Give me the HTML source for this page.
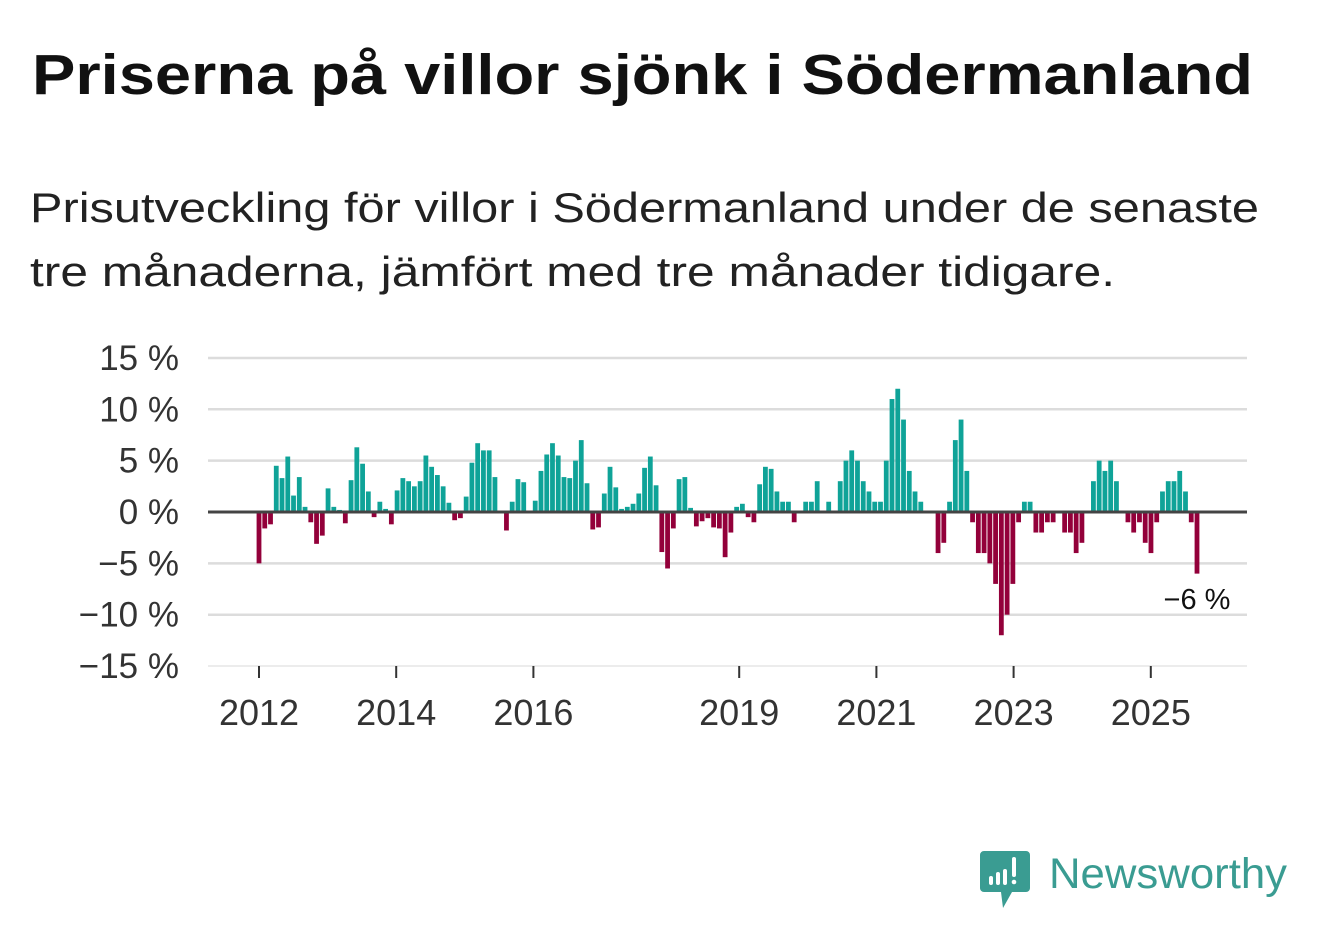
<!DOCTYPE html>
<html><head><meta charset="utf-8">
<style>
html,body{margin:0;padding:0;background:#fff;width:1322px;height:939px;overflow:hidden;font-family:"Liberation Sans","DejaVu Sans",sans-serif;}
svg{display:block}
</style></head>
<body>
<svg id="chart" width="1322" height="939" viewBox="0 0 1322 939">
<text x="32" y="94" font-size="57" font-weight="bold" fill="#111" textLength="1221" lengthAdjust="spacingAndGlyphs">Priserna på villor sjönk i Södermanland</text>
<text x="30" y="222" font-size="42" fill="#222" textLength="1229" lengthAdjust="spacingAndGlyphs">Prisutveckling för villor i Södermanland under de senaste</text>
<text x="30" y="286" font-size="42" fill="#222" textLength="1085" lengthAdjust="spacingAndGlyphs">tre månaderna, jämfört med tre månader tidigare.</text>
<g id="grid"></g>
<g id="yticks"></g>
<g id="xticks"></g>
<g id="bars"></g>
<line x1="208" x2="1247" y1="512" y2="512" stroke="#444" stroke-width="3"/>
<text x="1197" y="609" font-size="29" fill="#111" text-anchor="middle" stroke="#fff" stroke-width="6" paint-order="stroke">−6 %</text>
<g>
<path d="M984 851 h42 a4 4 0 0 1 4 4 v33 a4 4 0 0 1 -4 4 h-14 l-9 16 l-2 -16 h-17 a4 4 0 0 1 -4 -4 v-33 a4 4 0 0 1 4 -4z" fill="#3a9c92"/>
<rect x="989" y="876" width="4" height="9" rx="2" fill="#fff"/>
<rect x="996" y="872" width="4" height="13" rx="2" fill="#fff"/>
<rect x="1003" y="869" width="4" height="16" rx="2" fill="#fff"/>
<rect x="1012" y="857" width="4" height="20" rx="2" fill="#fff"/>
<circle cx="1014" cy="882" r="2.3" fill="#fff"/>
<text x="1049" y="888" font-size="43" fill="#3a9c92" textLength="238" lengthAdjust="spacingAndGlyphs">Newsworthy</text>
</g>
</svg>
<script>
const values = [-5,-1.6,-1.2,4.5,3.3,5.4,1.6,3.4,0.5,-1,-3.1,-2.3,2.3,0.5,0.2,-1.1,3.1,6.3,4.7,2,-0.5,1,0.3,-1.2,2.1,3.3,3,2.5,3,5.5,4.4,3.6,2.5,0.9,-0.8,-0.6,1.5,4.8,
6.7,6,6,3.4,0,-1.8,1,3.2,2.9,0,1.1,4,5.6,6.7,5.5,3.4,3.3,5,7,2.8,-1.7,-1.5,1.8,4.4,2.4,0.3,0.5,0.8,1.8,4.3,5.4,2.6,-3.9,-5.5,-1.6,3.2,3.4,0.4,-1.4,-0.9,-0.6,-1.5,-1.6,-4.4,-2,
0.5,0.8,-0.5,-1,2.7,4.4,4.2,2,1,1,-1,0,1,1,3,0,1,0,3,5,6,5,3,2,1,1,5,11,12,9,4,2,1,0,0,-4,-3,1,7,9,4,-1,-4,-4,
-5,-7,-12,-10,-7,-1,1,1,-2,-2,-1,-1,0,-2,-2,-4,-3,0,3,5,4,5,3,0,-1,-2,-1,-3,-4,-1,2,3,3,4,2,-1,-6];
const yTicks = [15,10,5,0,-5,-10,-15];
const yTickLabels = ["15 %","10 %","5 %","0 %","−5 %","−10 %","−15 %"];
const xTickYears = [2012,2014,2016,2019,2021,2023,2025];
const NS="http://www.w3.org/2000/svg";
const y = v => 512 - v*10.27;
const step = (1197-259)/(values.length-1);
const xBar = i => 259 + i*step;
const xYear = yr => 259 + (yr-2012)*68.6;
const grid=document.getElementById('grid'), yt=document.getElementById('yticks'), xt=document.getElementById('xticks'), bars=document.getElementById('bars');
yTicks.forEach((t,k)=>{
  const l=document.createElementNS(NS,'line');
  l.setAttribute('x1',208);l.setAttribute('x2',1247);l.setAttribute('y1',y(t));l.setAttribute('y2',y(t));
  l.setAttribute('stroke',t===-15?'#e6e6e6':'#dcdcdc');l.setAttribute('stroke-width',t===-15?1.5:2.5);
  
  
  grid.appendChild(l);
  const tx=document.createElementNS(NS,'text');
  tx.setAttribute('x',179);tx.setAttribute('y',y(t)+12);tx.setAttribute('text-anchor','end');
  tx.setAttribute('font-size',35);tx.setAttribute('fill','#333');tx.textContent=yTickLabels[k];
  
  
  yt.appendChild(tx);
});
xTickYears.forEach(yr=>{
  const x=xYear(yr);
  const l=document.createElementNS(NS,'line');
  l.setAttribute('x1',x);l.setAttribute('x2',x);l.setAttribute('y1',666);l.setAttribute('y2',678);
  l.setAttribute('stroke','#333');l.setAttribute('stroke-width',2);
  
  
  xt.appendChild(l);
  const tx=document.createElementNS(NS,'text');
  tx.setAttribute('x',x);tx.setAttribute('y',725);tx.setAttribute('text-anchor','middle');
  tx.setAttribute('font-size',36);tx.setAttribute('fill','#333');tx.textContent=yr;
  
  
  xt.appendChild(tx);
});
values.forEach((v,i)=>{
  if(v===0) return;
  const r=document.createElementNS(NS,'rect');
  r.setAttribute('x',xBar(i)-2.4);r.setAttribute('width',4.8);
  r.setAttribute('y',Math.min(y(v),512));r.setAttribute('height',Math.abs(y(v)-512));
  r.setAttribute('fill',v>0?'#0fa398':'#93003a');
  
  
  bars.appendChild(r);
});
</script>
</body></html>
